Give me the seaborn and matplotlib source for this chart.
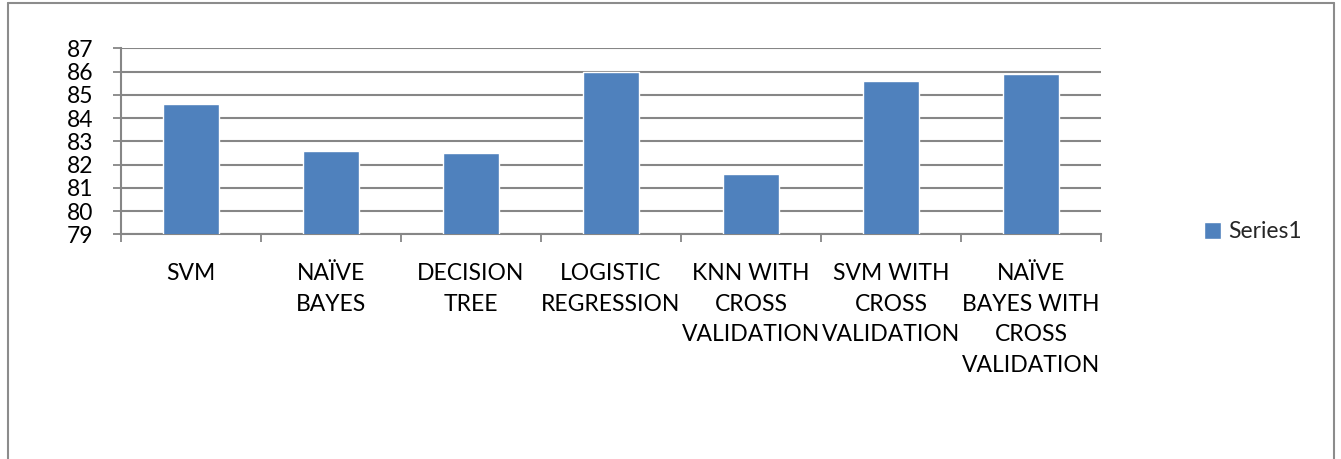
import matplotlib
matplotlib.use("Agg")
import matplotlib.pyplot as plt
import seaborn as sns
import pandas as pd
from matplotlib.lines import Line2D

# Classifier accuracy (%)
categories = [
    "SVM",
    "NAÏVE BAYES",
    "DECISION TREE",
    "LOGISTIC REGRESSION",
    "KNN WITH CROSS VALIDATION",
    "SVM WITH CROSS VALIDATION",
    "NAÏVE BAYES WITH CROSS VALIDATION",
]
accuracy = [84.6, 82.6, 82.5, 86.0, 81.6, 85.6, 85.9]
tick_labels = [
    "SVM",
    "NAÏVE\nBAYES",
    "DECISION\nTREE",
    "LOGISTIC\nREGRESSION",
    "KNN WITH\nCROSS\nVALIDATION",
    "SVM WITH\nCROSS\nVALIDATION",
    "NAÏVE\nBAYES WITH\nCROSS\nVALIDATION",
]
y_ticks = [79, 80, 81, 82, 83, 84, 85, 86, 87]
series_name = "Series1"

sns.set_theme(style="white")
plt.rcParams["font.family"] = ["Lato", "DejaVu Sans"]

BAR = "#4F81BD"
GRID = "#868686"
FS = 16.5
PX = 72 / 100  # points per pixel at 100 dpi

df = pd.DataFrame({"model": categories, "acc": accuracy})

W, H = 1341, 459
fig = plt.figure(figsize=(W / 100, H / 100), dpi=100)
left, right, top, bottom = 120.7, 1101.0, 48.3, 234.3
ax = fig.add_axes([left / W, 1 - bottom / H, (right - left) / W, (bottom - top) / H])

sns.barplot(data=df, x="model", y="acc", color=BAR, width=0.4,
            saturation=1, label=series_name, ax=ax, zorder=3)

ax.set_ylim(79, 87)
ax.set_xlim(-0.5, len(categories) - 0.5)
ax.set_yticks(y_ticks)
ax.set_yticklabels([str(t) for t in y_ticks], fontsize=FS, color="black")
ax.set_xticks(range(len(categories)))
ax.set_xticklabels(tick_labels, fontsize=FS, color="black", linespacing=1.58,
                   va="top")
ax.set_xlabel("")
ax.set_ylabel("")

# category separators on the category axis
ax.set_xticks([i - 0.5 for i in range(len(categories) + 1)], minor=True)
ax.tick_params(axis="x", which="major", length=0, pad=20.5)
ax.tick_params(axis="x", which="minor", length=8 * PX, width=1.3, color=GRID,
               direction="out", bottom=True)
ax.tick_params(axis="y", length=8 * PX, width=1.3, color=GRID, direction="out",
               left=True, pad=19 * PX)

ax.grid(axis="y", color=GRID, linewidth=1.5, zorder=0)
ax.set_axisbelow(True)
for side in ("top", "right"):
    ax.spines[side].set_visible(False)
for side in ("left", "bottom"):
    ax.spines[side].set_color(GRID)
    ax.spines[side].set_linewidth(1.5)

handles, labels = ax.get_legend_handles_labels()
leg = fig.legend(handles[:1], labels[:1], loc="center left",
                 bbox_to_anchor=(1204 / W, 1 - 232 / H), frameon=False,
                 fontsize=FS, handlelength=0.75, handleheight=0.75,
                 handletextpad=0.3, borderaxespad=0, borderpad=0)
if ax.get_legend() is not None:
    ax.get_legend().remove()

# chart frame
frame = dict(color="#8c8c8c", linewidth=1.5, transform=fig.transFigure)
fig.add_artist(Line2D([8 / W, 1334 / W], [1 - 3 / H, 1 - 3 / H], **frame))
fig.add_artist(Line2D([8 / W, 8 / W], [0, 1 - 3 / H], **frame))
fig.add_artist(Line2D([1334 / W, 1334 / W], [0, 1 - 3 / H], **frame))

fig.savefig("out.png", dpi=100)
